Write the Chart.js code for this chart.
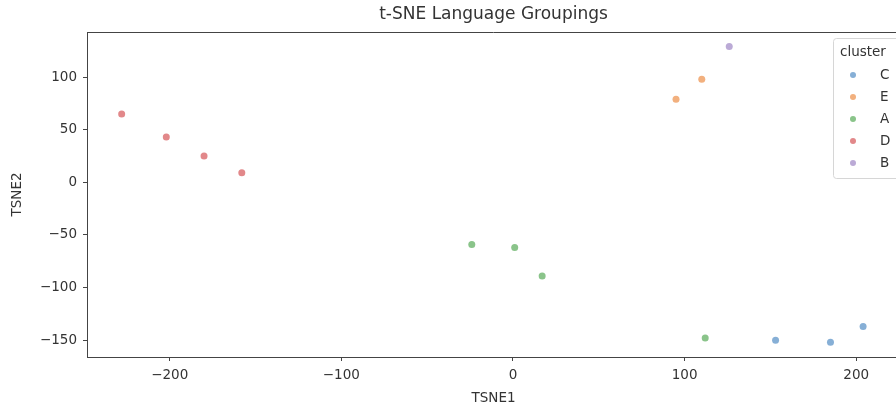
<!DOCTYPE html>
<html>
<head>
<meta charset="utf-8">
<script src="https://cdn.jsdelivr.net/npm/chart.js@4/dist/chart.umd.min.js"></script>
<style>
  html, body { margin: 0; padding: 0; background: #fff; overflow: hidden; }
  #wrap { width: 904px; height: 408px; }
</style>
</head>
<body>
<div id="wrap"><canvas id="tsneChart"></canvas></div>
<script>
// cluster order as in the legend
const clusters = ['C', 'E', 'A', 'D', 'B'];
const clusterColors = ['#86afd6', '#f2b07e', '#8ac48a', '#e2888a', '#bbaad6'];

// TSNE1 / TSNE2 per cluster
const cX = [153, 185, 204];
const cY = [-150, -152, -137];
const eX = [110, 95];
const eY = [98, 79];
const aX = [-24, 1, 17, 112];
const aY = [-59, -62, -89, -148];
const dX = [-228, -202, -180, -158];
const dY = [65, 43, 25, 9];
const bX = [126];
const bY = [129];

const xTicks = [-200, -100, 0, 100, 200];
const yTicks = [-150, -100, -50, 0, 50, 100];

const font = 'DejaVu Sans';
const inkColor = '#333';

function pts(xs, ys) {
  return xs.map((x, i) => ({ x, y: ys[i] }));
}

// matplotlib style minus sign
function fmt(v) {
  return v < 0 ? '\u2212' + Math.abs(v) : String(v);
}

const seriesPts = [pts(cX, cY), pts(eX, eY), pts(aX, aY), pts(dX, dY), pts(bX, bY)];

const frameAndLegend = {
  id: 'frameAndLegend',
  afterDraw(chart) {
    const { ctx, chartArea: a } = chart;
    ctx.save();
    // top and right spines
    ctx.strokeStyle = '#444';
    ctx.lineWidth = 1;
    ctx.beginPath();
    ctx.moveTo(a.left, a.top + 0.5);
    ctx.lineTo(a.right, a.top + 0.5);
    ctx.lineTo(a.right, a.bottom);
    ctx.stroke();

    // title
    ctx.fillStyle = inkColor;
    ctx.font = `17px "${font}"`;
    ctx.textAlign = 'center';
    ctx.textBaseline = 'middle';
    ctx.fillText('t-SNE Language Groupings', (a.left + a.right) / 2, 15);

    // legend box
    const lx = 833, ly = 38, lw = 80, lh = 140;
    ctx.fillStyle = 'rgba(255,255,255,0.8)';
    ctx.strokeStyle = '#d6d6d6';
    ctx.beginPath();
    ctx.roundRect(lx + 0.5, ly + 0.5, lw, lh, 3);
    ctx.fill();
    ctx.stroke();
    ctx.fillStyle = inkColor;
    ctx.font = `13.5px "${font}"`;
    ctx.textAlign = 'left';
    ctx.fillText('cluster', 840, 52);
    clusters.forEach((c, i) => {
      const y = 75 + i * 22;
      ctx.fillStyle = clusterColors[i];
      ctx.beginPath();
      ctx.arc(853, y, 3, 0, Math.PI * 2);
      ctx.fill();
      ctx.fillStyle = inkColor;
      ctx.fillText(c, 880, y);
    });
    ctx.restore();
  }
};

const axisBase = {
  type: 'linear',
  border: { color: '#444', width: 1 },
  grid: { drawOnChartArea: false, drawTicks: true, tickLength: 4, tickColor: '#444' },
  title: { display: true, color: inkColor, font: { family: font, size: 13.5 } }
};

new Chart(document.getElementById('tsneChart'), {
  type: 'scatter',
  data: {
    datasets: clusters.map((c, i) => ({
      label: c,
      data: seriesPts[i],
      backgroundColor: clusterColors[i],
      borderColor: clusterColors[i],
      pointRadius: 3.5,
      pointBorderWidth: 0
    }))
  },
  options: {
    responsive: true,
    maintainAspectRatio: false,
    animation: false,
    layout: { padding: { top: 32, left: 0, right: 1, bottom: 0 } },
    plugins: {
      legend: { display: false },
      tooltip: { enabled: false }
    },
    scales: {
      x: {
        ...axisBase,
        min: -248.2,
        max: 225.5,
        ticks: { color: inkColor, font: { family: font, size: 13.5 }, padding: 6, callback: fmt },
        title: { ...axisBase.title, text: 'TSNE1', padding: { top: 0, bottom: 1 } },
        afterBuildTicks: (s) => { s.ticks = xTicks.map((v) => ({ value: v })); },
        afterFit: (s) => { s.height = 51; }
      },
      y: {
        ...axisBase,
        min: -166,
        max: 142.8,
        ticks: { color: inkColor, font: { family: font, size: 13.5 }, padding: 6, callback: fmt },
        title: { ...axisBase.title, text: 'TSNE2', padding: { top: 9, bottom: 0 } },
        afterBuildTicks: (s) => { s.ticks = yTicks.map((v) => ({ value: v })); },
        afterFit: (s) => { s.width = 87; }
      }
    }
  },
  plugins: [frameAndLegend]
});
</script>
</body>
</html>
